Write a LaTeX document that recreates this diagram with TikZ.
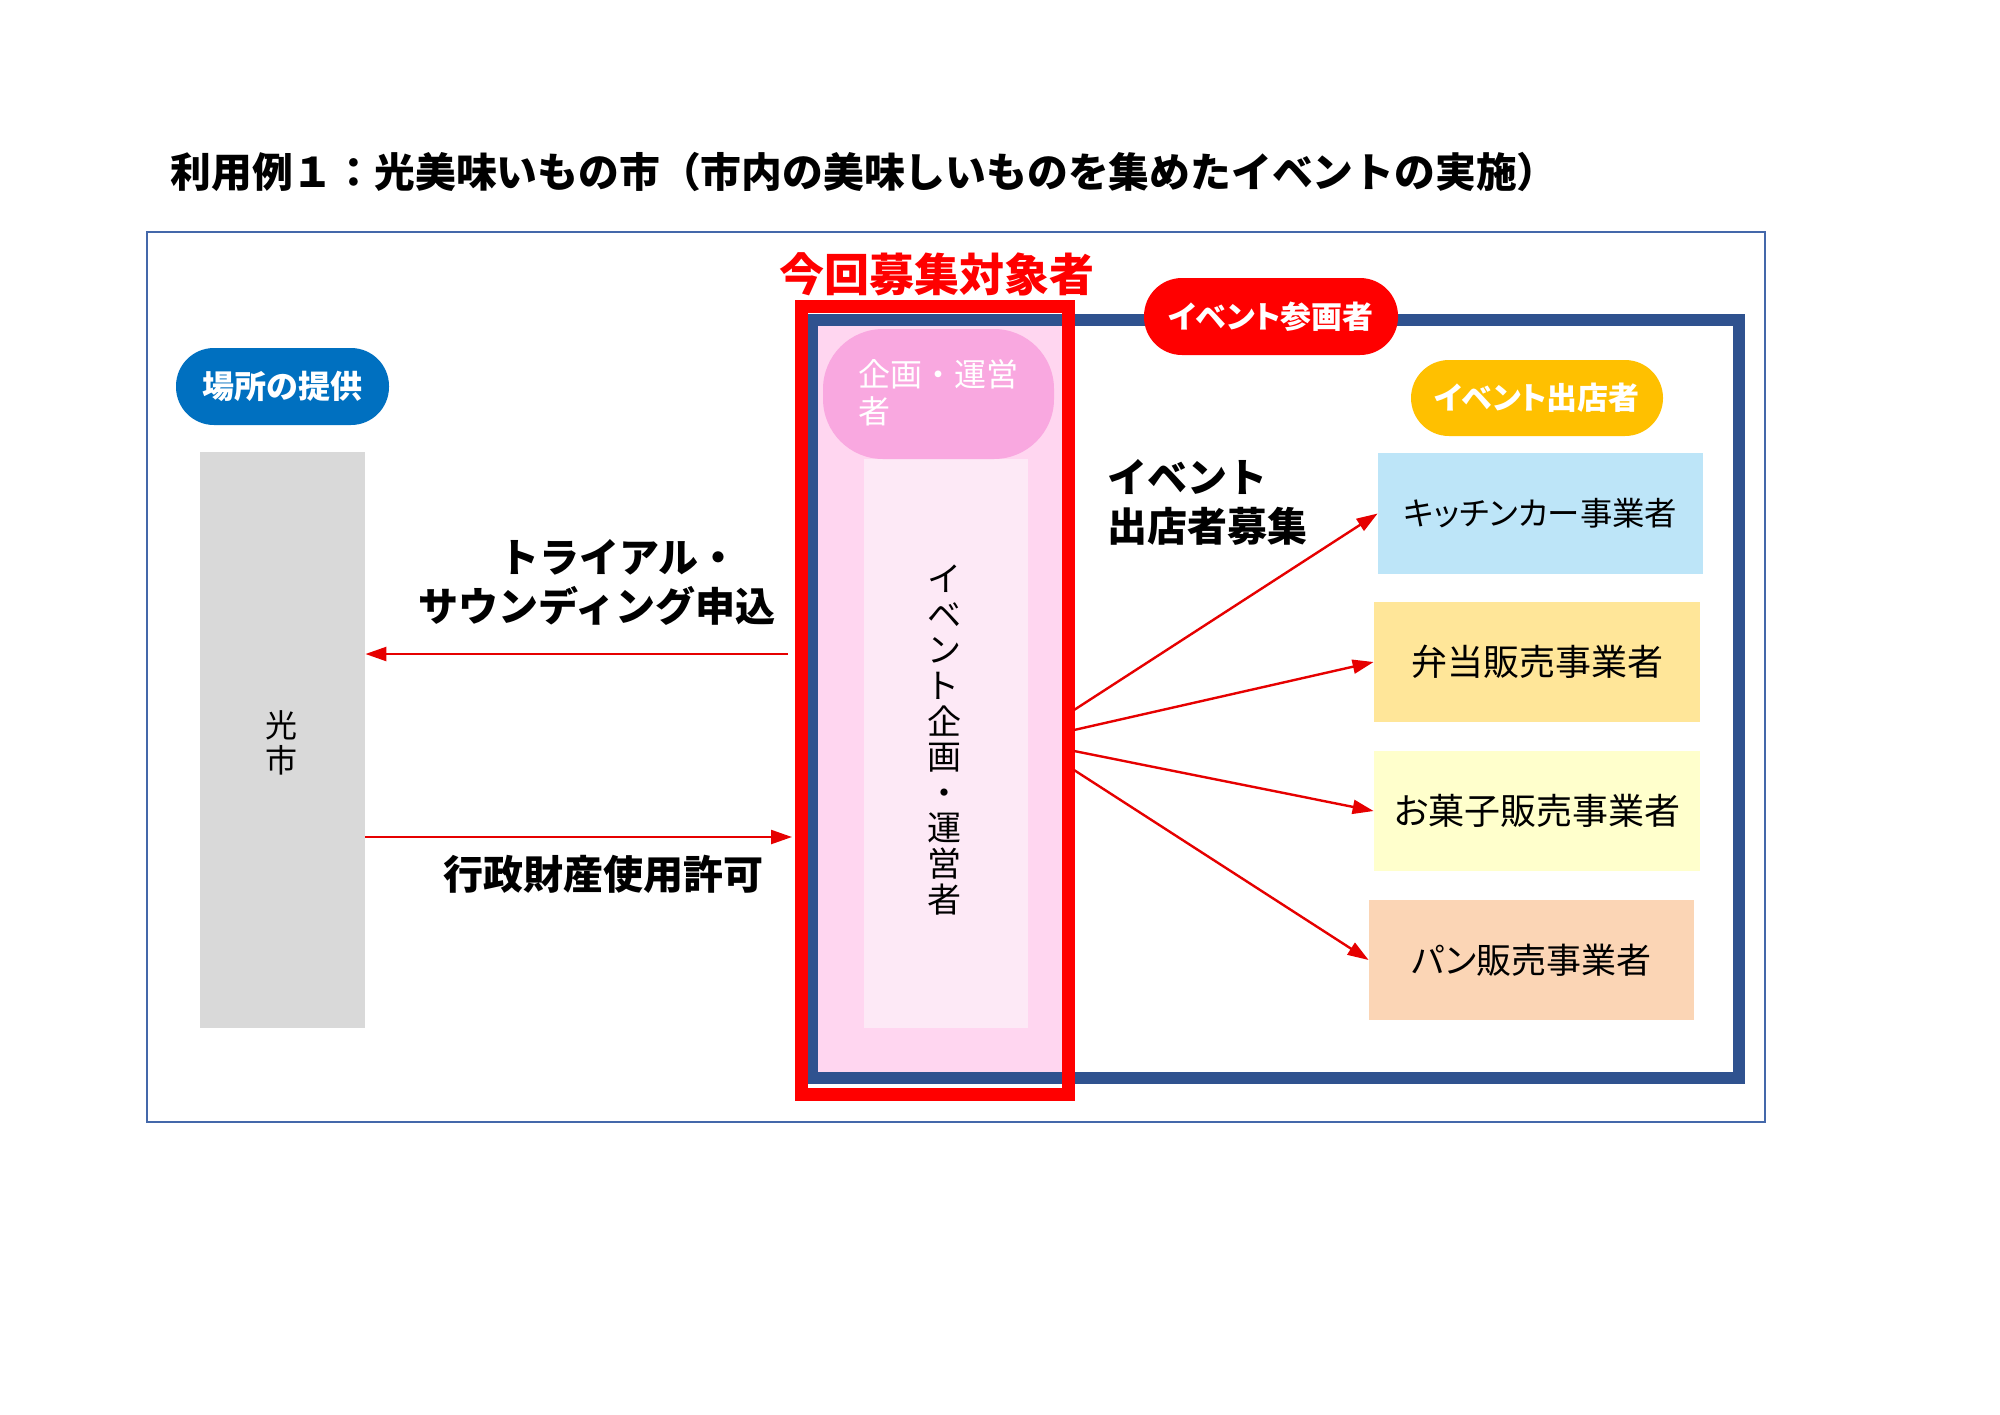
\documentclass[tikz,border=0pt]{standalone}
\usepackage{fontspec}
\setmainfont{Noto Sans CJK JP}[RawFeature=+palt]
\newfontfamily\jpfull{Noto Sans CJK JP}
\usetikzlibrary{arrows.meta}
\definecolor{outerblue}{RGB}{68,104,170}
\definecolor{navy}{RGB}{47,82,143}
\definecolor{pinkcol}{RGB}{255,214,240}
\definecolor{pinkpill}{RGB}{249,168,224}
\definecolor{pinklight}{RGB}{253,233,246}
\definecolor{placeblue}{RGB}{0,112,192}
\definecolor{gold}{RGB}{255,192,0}
\definecolor{kitchen}{RGB}{189,229,248}
\definecolor{bento}{RGB}{255,230,153}
\definecolor{okashi}{RGB}{255,255,204}
\definecolor{pan}{RGB}{251,213,181}
\definecolor{grayblk}{RGB}{217,217,217}
\definecolor{arrred}{RGB}{230,0,0}
\tikzset{
  pill/.style={inner sep=0pt, rounded corners=19pt, text=white, font=\bfseries\fontsize{15.5}{18}\selectfont},
  shopbox/.style={inner sep=0pt, minimum width=163pt, minimum height=60pt},
  arr/.style={draw=arrred, line width=1.2pt, -{Triangle[length=10.5pt,width=7pt]}},
  lbl/.style={font=\jpfull\bfseries\fontsize{20}{24.5}\selectfont, align=center, inner sep=0pt}
}
\begin{document}
\begin{tikzpicture}[x=0.5pt,y=-0.5pt]
\useasboundingbox (0,0) rectangle (2000,1414);
\fill[white] (0,0) rectangle (2000,1414);

% title
\node[anchor=west, inner sep=0pt, font=\jpfull\bfseries\fontsize{20.4}{24}\selectfont] (title) at (170,172) {利用例１：光美味いもの市（市内の美味しいものを集めたイベントの実施）};

% outer frame
\draw[outerblue, line width=1.2pt] (147,232) rectangle (1765,1122);

% pink column and navy frame
\fill[pinkcol] (816,324) rectangle (1063,1074);
\draw[navy, line width=6pt] (812,320) rectangle (1739,1078);
\node[fill=pinklight, inner sep=0pt, minimum width=82pt, minimum height=284.5pt] (inner) at (946,743.5) {};
\node[fill=pinkpill, inner sep=0pt, minimum width=115.5pt, minimum height=65pt, rounded corners=30pt] (planpill) at (938.5,394) {};
\node[anchor=west, align=left, inner sep=0pt, text=white, font=\jpfull\fontsize{16}{18.5}\selectfont] (plantext) at (858,393) {企画・運営\\者};
\node[align=center, inner sep=0pt, font=\fontsize{17}{17.8}\selectfont] (vert) at (944,740) {イ\\ベ\\ン\\ト\\企\\画\\・\\運\\営\\者};

% red target box
\draw[red, line width=6.5pt] (801,306) rectangle (1068,1094);
\node[inner sep=0pt, text=red, font=\bfseries\fontsize{22.5}{24}\selectfont] (target) at (937,274) {今回募集対象者};

% pills
\node[pill, fill=red, minimum width=127pt, minimum height=38.5pt] (sankaku) at (1271,316.5) {イベント参画者};
\node[pill, fill=gold, minimum width=126pt, minimum height=38pt] (shutten) at (1537,398) {イベント出店者};
\node[pill, fill=placeblue, minimum width=106.5pt, minimum height=38.5pt, font=\bfseries\fontsize{16}{18}\selectfont] (place) at (282.5,386.5) {場所の提供};

% city block
\node[fill=grayblk, inner sep=0pt, minimum width=82.5pt, minimum height=288pt] (city) at (282.5,740) {};
\node[align=center, inner sep=0pt, font=\fontsize{16}{17.5}\selectfont] (citytext) at (281,743) {光\\市};

% shop boxes
\node[shopbox, fill=kitchen, minimum width=162.5pt, minimum height=60.5pt, font=\fontsize{16.2}{20}\selectfont] (k) at (1540.5,513.5) {キッチンカー事業者};
\node[shopbox, fill=bento, font=\fontsize{18}{20}\selectfont] (b) at (1537,662) {弁当販売事業者};
\node[shopbox, fill=okashi, font=\fontsize{18}{20}\selectfont] (o) at (1537,811) {お菓子販売事業者};
\node[shopbox, fill=pan, minimum width=162.5pt, font=\fontsize{17.5}{20}\selectfont] (p) at (1531.5,960) {パン販売事業者};

% labels
\node[lbl, align=left, anchor=west] (recruit) at (1107,502) {イベント\\出店者募集};
\node[lbl] (trial) at (597,582) {\hspace*{22pt}トライアル・\\サウンディング申込};
\node[lbl] (permit) at (603,874) {行政財産使用許可};

% connectors
\coordinate (s1) at (1074,710);
\coordinate (s2) at (1074,730);
\coordinate (s3) at (1074,751);
\coordinate (s4) at (1074,770);
\draw[arr] (s1) -- (k.west);
\draw[arr] (s2) -- (b.west);
\draw[arr] (s3) -- (o.west);
\draw[arr] (s4) -- (p.west);

\coordinate (t1) at (788,654);
\coordinate (t2) at (792,837);
\draw[arr] (t1) -- (t1 -| city.east);
\draw[arr] (t2 -| city.east) -- (t2);
\end{tikzpicture}
\end{document}
